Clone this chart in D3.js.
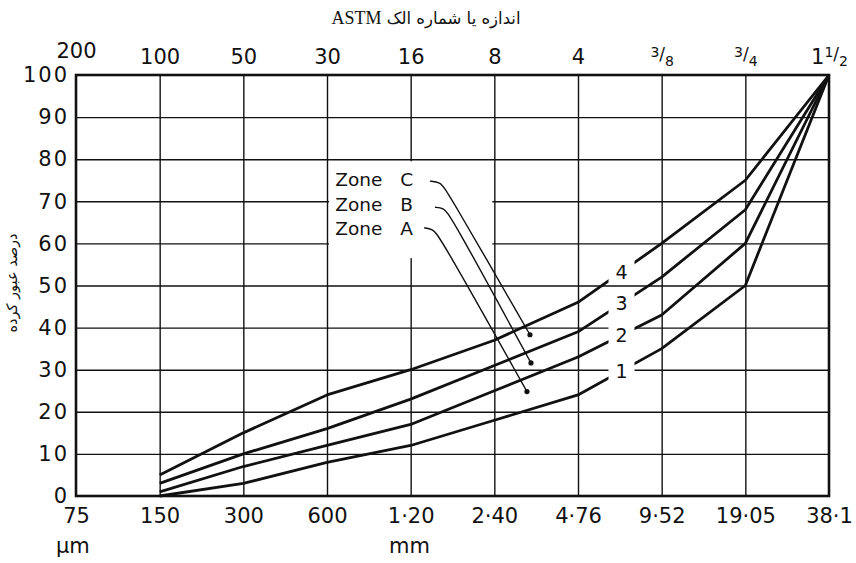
<!DOCTYPE html>
<html lang="en">
<head>
	<meta charset="UTF-8">
	<title>Grading curves 38.1 mm</title>
	<script src="https://cdn.jsdelivr.net/npm/d3@7"></script>
	<style>
		body{ margin:0; background:#fff; }
		text{ font-family:"DejaVu Sans", sans-serif; fill:#111; }
		.grid line{ stroke:#111; stroke-width:1.4; }
		.grid path{ display:none; }
		.curve{ fill:none; stroke:#111; stroke-width:2.8; stroke-linejoin:round; }
		.leader{ fill:none; stroke:#111; stroke-width:1.4; }
	</style>
</head>
<body>
<script type="text/javascript">

	// sieve sizes (bottom: metric, top: ASTM number / inches)
	var sieveMetric = ["75", "150", "300", "600", "1·20", "2·40", "4·76", "9·52", "19·05", "38·1"];
	var sieveASTM = ["200", "100", "50", "30", "16", "8", "4", "3/8", "3/4", "1 1/2"];
	var percentTicks = [0, 10, 20, 30, 40, 50, 60, 70, 80, 90, 100];

	// percentage passing, one value per sieve (null = not drawn)
	var curveNames = ["1", "2", "3", "4"];
	var curve1 = [null, 0, 3, 8, 12, 18, 24, 35, 50, 100];
	var curve2 = [null, 1, 7, 12, 17, 25, 33, 43, 60, 100];
	var curve3 = [null, 3, 10, 16, 23, 31, 39, 52, 68, 100];
	var curve4 = [null, 5, 15, 24, 30, 37, 46, 60, 75, 100];

	var zoneNames = ["C", "B", "A"];

	var margin = {top: 75, left: 76, right: 27, bottom: 67};
	var W = 856, H = 563;
	var width = W - margin.left - margin.right,
		height = H - margin.top - margin.bottom;

	var svg = d3.select('body').append('svg')
		.attr('width', W)
		.attr('height', H);
	var g = svg.append('g')
		.attr('transform', 'translate(' + margin.left + ',' + margin.top + ')');

	var x = d3.scaleLinear().domain([0, sieveMetric.length - 1]).range([0, width]);
	var y = d3.scaleLinear().domain([0, 100]).range([height, 0]);

	// grid
	g.append('g')
		.attr('class', 'grid')
		.attr('transform', 'translate(0,' + height + ')')
		.call(d3.axisBottom(x).tickValues(d3.range(1, sieveMetric.length - 1)).tickSize(-height).tickFormat(''));
	g.append('g')
		.attr('class', 'grid')
		.call(d3.axisLeft(y).tickValues(percentTicks.slice(1, -1)).tickSize(-width).tickFormat(''));

	// blank area behind the zone notes
	g.append('rect')
		.attr('x', x(3) + 2).attr('width', x(5) - x(3) - 4)
		.attr('y', y(79.5)).attr('height', y(56.5) - y(79.5))
		.attr('fill', '#fff');

	// frame
	g.append('rect')
		.attr('width', width).attr('height', height)
		.attr('fill', 'none').attr('stroke', '#111').attr('stroke-width', 2.6);

	// curves
	var curves = [curve1, curve2, curve3, curve4];
	var line = d3.line()
		.defined(function (d) { return d != null; })
		.x(function (d, i) { return x(i); })
		.y(function (d) { return y(d); });

	g.selectAll('.curve')
		.data(curves)
		.enter().append('path')
		.attr('class', 'curve')
		.attr('d', line);

	// curve numbers, sitting on the lines between 4.76 and 9.52
	var labelPos = 6.52;
	curves.forEach(function (c, k) {
		var i0 = Math.floor(labelPos), t = labelPos - i0;
		var v = c[i0] + (c[i0 + 1] - c[i0]) * t;
		var lg = g.append('g').attr('transform', 'translate(' + x(labelPos) + ',' + y(v) + ')');
		lg.append('rect')
			.attr('x', -13).attr('y', -11).attr('width', 26).attr('height', 22)
			.attr('fill', '#fff');
		lg.append('text')
			.attr('text-anchor', 'middle')
			.attr('dy', '0.36em')
			.attr('font-size', 19)
			.text(curveNames[k]);
	});

	// zone notes with leaders
	var zoneText = [[3.1, 73.7], [3.1, 67.8], [3.1, 62.1]];
	var zoneLead = [
		[[4.23, 74.8], [4.35, 74.6], [4.43, 72.7], [5.426, 38.3]],
		[[4.29, 68.6], [4.39, 68.4], [4.47, 67.0], [5.438, 31.6]],
		[[4.16, 63.7], [4.26, 63.4], [4.34, 62.0], [5.39, 24.8]]
	];
	var leadLine = d3.line()
		.x(function (d) { return x(d[0]); })
		.y(function (d) { return y(d[1]); })
		.curve(d3.curveBasis);

	zoneNames.forEach(function (z, k) {
		var t = g.append('text')
			.attr('x', x(zoneText[k][0]))
			.attr('y', y(zoneText[k][1]))
			.attr('font-size', 18.5);
		t.append('tspan').text('Zone');
		t.append('tspan').attr('x', x(zoneText[k][0]) + 65).text(z);
		g.append('path').attr('class', 'leader').attr('d', leadLine(zoneLead[k]));
		var end = zoneLead[k][zoneLead[k].length - 1];
		g.append('circle').attr('cx', x(end[0])).attr('cy', y(end[1])).attr('r', 2.6).attr('fill', '#111');
	});

	// bottom axis: metric sizes
	var bx = g.append('g')
		.attr('transform', 'translate(0,' + height + ')')
		.call(d3.axisBottom(x).tickValues(d3.range(sieveMetric.length))
			.tickSize(0).tickPadding(12)
			.tickFormat(function (i) { return sieveMetric[i]; }));
	bx.select('.domain').remove();
	bx.selectAll('text').attr('font-size', 21).attr('font-family', 'DejaVu Sans').attr('fill', '#111');

	// left axis: percent
	var ly = g.append('g')
		.call(d3.axisLeft(y).tickValues(percentTicks).tickSize(0).tickPadding(7));
	ly.select('.domain').remove();
	ly.selectAll('text').attr('font-size', 21).attr('font-family', 'DejaVu Sans')
		.attr('fill', '#111').attr('letter-spacing', 2);

	// top axis: ASTM sieve numbers
	var tx = g.append('g')
		.call(d3.axisTop(x).tickValues(d3.range(sieveASTM.length))
			.tickSize(0).tickPadding(11).tickFormat(''));
	tx.select('.domain').remove();
	tx.selectAll('.tick text').each(function (i) {
		var t = d3.select(this)
			.attr('font-size', 21).attr('font-family', 'DejaVu Sans').attr('fill', '#111');
		if (i === 0) t.attr('dy', '-0.3em');
		var lab = sieveASTM[i];
		if (lab.indexOf('/') < 0) { t.text(lab); return; }
		var parts = lab.split(' ');
		var fr = parts[parts.length - 1].split('/');
		if (parts.length > 1) t.append('tspan').text(parts[0]);
		t.append('tspan').attr('font-size', 14).attr('dy', -7).text(fr[0]);
		t.append('tspan').attr('font-size', 17).attr('dy', 3).text('/');
		t.append('tspan').attr('font-size', 14).attr('dy', 6).text(fr[1]);
	});

	// unit labels
	svg.append('text').attr('x', 56).attr('y', 553).attr('font-size', 21).text('µm');
	svg.append('text').attr('x', 389).attr('y', 553).attr('font-size', 21).text('mm');

	// titles
	var title = svg.append('text')
		.attr('x', 426).attr('y', 24)
		.attr('text-anchor', 'middle')
		.attr('direction', 'rtl')
		.attr('font-size', 16.5);
	title.append('tspan').text('اندازه یا شماره الک ');
	title.append('tspan')
		.attr('font-family', '"Liberation Serif", "Times New Roman", serif')
		.attr('font-size', 18)
		.text('ASTM');

	svg.append('text')
		.attr('transform', 'translate(17,283) rotate(-90)')
		.attr('text-anchor', 'middle')
		.attr('direction', 'rtl')
		.attr('font-size', 14.5)
		.text('درصد عبور کرده');

</script>
</body>
</html>
